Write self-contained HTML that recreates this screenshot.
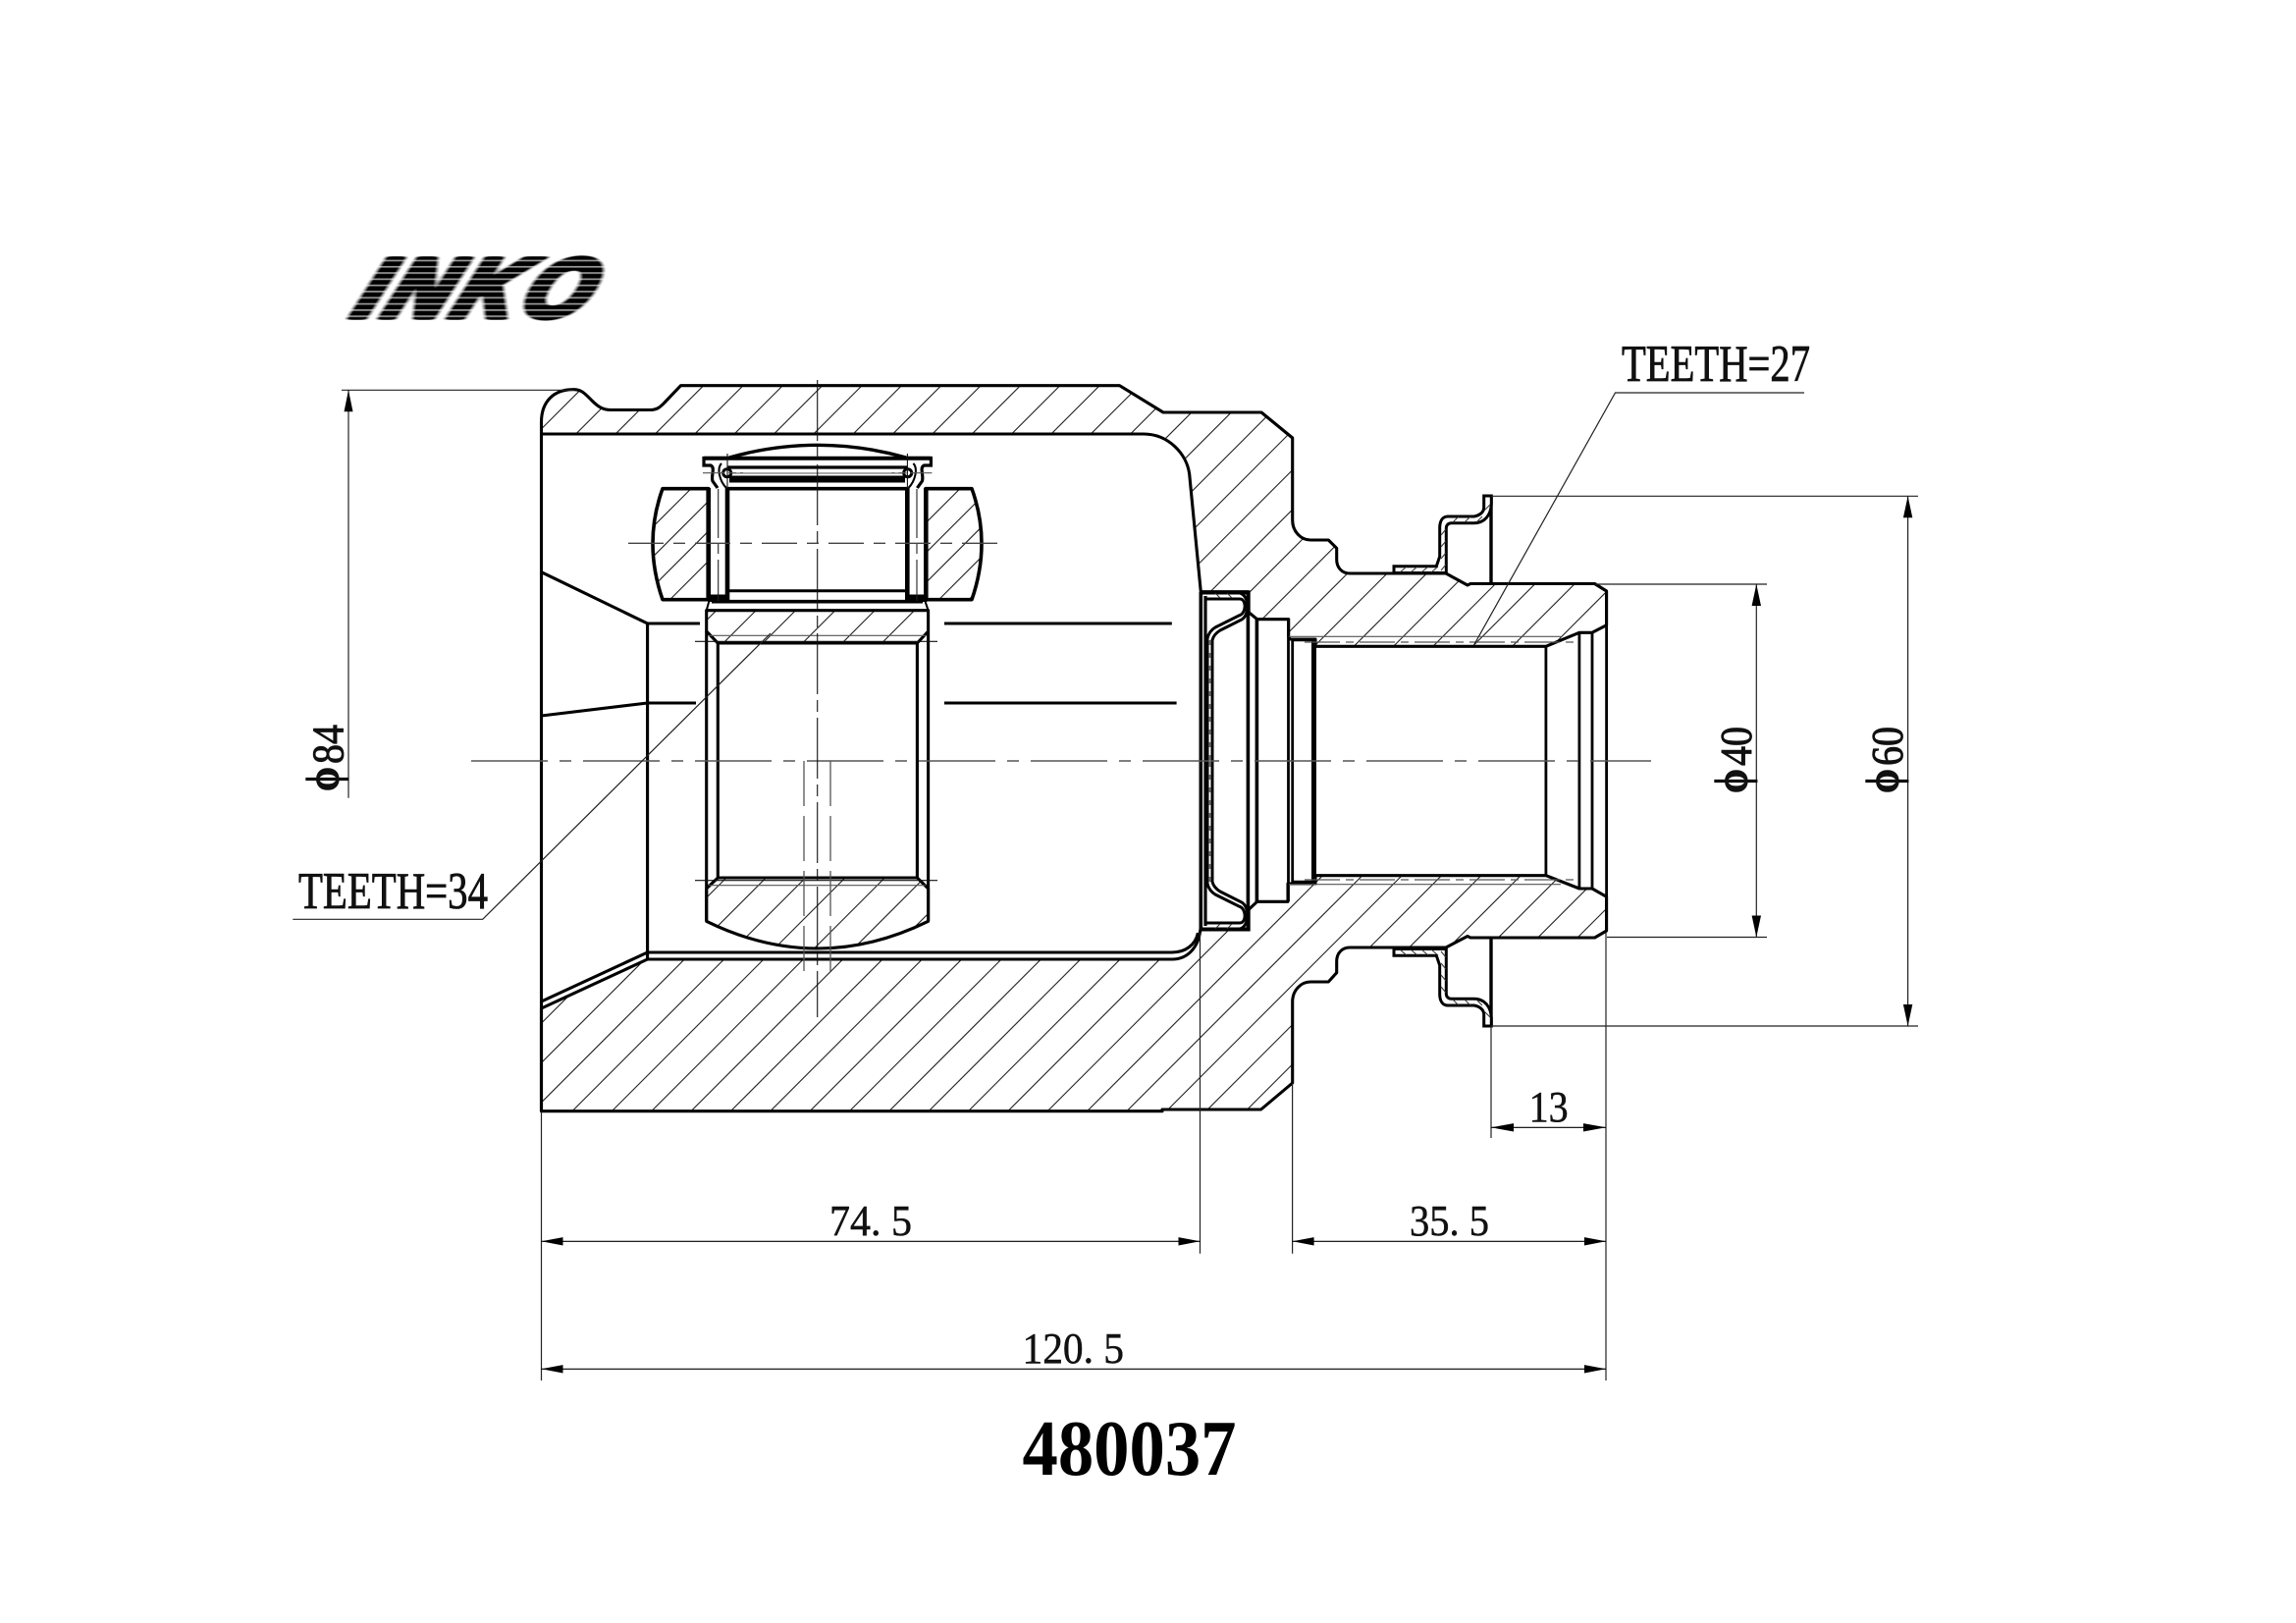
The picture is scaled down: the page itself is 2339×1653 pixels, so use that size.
<!DOCTYPE html>
<html><head><meta charset="utf-8"><title>480037</title>
<style>html,body{margin:0;padding:0;background:#fff}svg{display:block}
text{font-family:"Liberation Serif","DejaVu Serif",serif;fill:#111}</style></head>
<body>
<svg xmlns="http://www.w3.org/2000/svg" width="2339" height="1653" viewBox="0 0 2339 1653">
<defs>
<path id="h" d="M568,380l-760,760M608.35,380l-760,760M648.7,380l-760,760M689.05,380l-760,760M729.4,380l-760,760M769.75,380l-760,760M810.1,380l-760,760M850.45,380l-760,760M890.8,380l-760,760M931.15,380l-760,760M971.5,380l-760,760M1011.85,380l-760,760M1052.2,380l-760,760M1092.55,380l-760,760M1132.9,380l-760,760M1173.25,380l-760,760M1213.6,380l-760,760M1253.95,380l-760,760M1294.3,380l-760,760M1334.65,380l-760,760M1375,380l-760,760M1415.35,380l-760,760M1455.7,380l-760,760M1496.05,380l-760,760M1536.4,380l-760,760M1576.75,380l-760,760M1617.1,380l-760,760M1657.45,380l-760,760M1697.8,380l-760,760M1738.15,380l-760,760M1778.5,380l-760,760M1818.85,380l-760,760M1859.2,380l-760,760M1899.55,380l-760,760M1939.9,380l-760,760M1980.25,380l-760,760M2020.6,380l-760,760M2060.95,380l-760,760M2101.3,380l-760,760M2141.65,380l-760,760M2182,380l-760,760M2222.35,380l-760,760M2262.7,380l-760,760M2303.05,380l-760,760M2343.4,380l-760,760M2383.75,380l-760,760" fill="none" stroke="#222" stroke-width="1.1"/>
<path id="bodyU" d="M551.5,442V430C551.5,408 565,397 583,396.7C592,396 596,401 603,408C609,414 614,417.5 622,417.5H662C670,417.5 673,414 677,410L693.5,392.7H1140.5L1185,420H1285L1316.7,446V530C1316.7,541 1325,550 1335,550H1353.3L1361.7,558.3V570C1361.7,578 1367,584 1375,584H1473L1495,596L1498,594.5H1624.6L1636.6,602V636.7L1622,644.3H1608.9L1574.9,658.3H1340V651H1314L1312.7,648V630.7H1280.7L1271.7,623.3V602.7H1223.3L1211.7,483C1209,462 1190,442 1165,442Z"/>
<path id="bodyL" d="M551.5,1027L659.6,977H1194C1210,977 1221,965 1223,946H1271.7V926.7L1280.7,918.3H1312V900H1340V891.7H1575L1609,905H1622L1636.6,913.3V948L1624.6,955H1498L1495,953.5L1473,965H1375C1367,965 1361.7,971 1361.7,979V990.7L1353.3,1000H1335C1325,1000 1316.7,1009 1316.7,1020V1103L1284.6,1130H1184V1131.7H551.5Z"/>
<path id="spT" d="M719.7,621.7H945.6V643L934.4,655H731.3L719.7,643Z"/>
<path id="spB" d="M731.3,894L719.7,905V938.3Q832.7,993.7 945.6,938.3V905L934.4,894Z"/>
<path id="rL" d="M721.7,497.7H675Q655,553 675,610.7H721.7Z"/>
<path id="rR" d="M943,497.7H990Q1010,553 990,610.7H943Z"/>
<clipPath id="cb"><use href="#bodyU"/><use href="#bodyL"/><use href="#spT"/><use href="#spB"/></clipPath>
<clipPath id="cr"><use href="#rL"/><use href="#rR"/></clipPath>
<g id="ring">
  <path d="M1420,576.7H1463.3L1466.7,566.7V536.7C1467,530 1470,526 1475,526H1501.7C1507,525 1511.7,522 1511.7,516.7V505H1519.3V513C1519,525 1512,532.7 1501.7,532.7H1478.3C1475,533 1473.3,535 1473.3,538V583.5H1420Z" fill="#fff" stroke="#000" stroke-width="3"/>
  <path d="M1426,583l7,-6M1437,583l7,-6M1448,583l7,-6M1458,583l7,-6M1468,545l5,-6M1468,557l5,-6M1468,569l5,-6M1468,581l5,-6M1480,532l6,-6M1492,532l6,-6M1504,532l6,-6M1512,520l6,-6" stroke="#333" stroke-width="1" fill="none"/>
</g>
<g id="seal">
  <path d="M1228,610H1263C1270,610 1270,625 1262,627L1238,639C1233,642 1231,646 1230,650V775" fill="none" stroke="#000" stroke-width="3"/>
  <path d="M1263,604C1272,606 1274,625 1265,631L1243,642C1238,645 1236,648 1235,652V775" fill="none" stroke="#000" stroke-width="3"/>
  <path d="M1223,603.5H1271.7V623" fill="none" stroke="#000" stroke-width="4"/>
  <path d="M1232.5,652V775" stroke="#666" stroke-width="1.6" stroke-dasharray="5 8" fill="none"/>
  <path d="M1238,604l5,5M1250,604l5,5" stroke="#333" fill="none"/>
</g>
<g id="lip">
  <path d="M745,466.5H717V474H724C729,476 724,485 726,490L731,497" fill="none" stroke="#000" stroke-width="3.2"/>
  <path d="M735,472C730,477 733,490 740,497" fill="none" stroke="#000" stroke-width="2"/>
  <circle cx="740.7" cy="481.7" r="4" fill="#fff" stroke="#000" stroke-width="3"/>
  <rect x="721" y="605.5" width="21.5" height="7.5" fill="#000"/>
  <path d="M741,462V497" stroke="#111" stroke-width="1.1"/>
  <path d="M716,481.7H757" stroke="#555" stroke-width="1.2" stroke-dasharray="22 4 8 4"/>
</g>
<filter id="smear" x="-10%" y="-10%" width="120%" height="120%"><feGaussianBlur stdDeviation="3.5 .5"/><feComponentTransfer><feFuncA type="linear" slope="2" intercept="-.15"/></feComponentTransfer></filter>
<pattern id="scan" patternUnits="userSpaceOnUse" width="10" height="6.3"><rect y="0" width="10" height="1.7" fill="#fff" fill-opacity=".6"/></pattern>
</defs>

<!-- logo -->
<g filter="url(#smear)">
<text transform="translate(357,323) skewX(-24)" font-size="86" textLength="236" style="font-family:'Liberation Sans',sans-serif;font-weight:bold;font-style:italic;fill:#000;stroke:#000;stroke-width:5">INKO</text>
</g>
<rect x="340" y="258" width="290" height="72" fill="url(#scan)"/>

<!-- hatching -->
<g clip-path="url(#cb)"><use href="#h"/></g>
<path clip-path="url(#cr)" d="M691,480l-140,140M721.7,480l-140,140M752.2,480l-140,140M782.7,480l-140,140M813.2,480l-140,140M995.7,480l-140,140M1026.2,480l-140,140M1056.7,480l-140,140M1087.2,480l-140,140M1117.7,480l-140,140" stroke="#222" stroke-width="1.1" fill="none"/>

<!-- body -->
<g fill="none" stroke="#000" stroke-width="3.1" stroke-linejoin="round">
  <use href="#bodyU"/>
  <use href="#bodyL"/>
  <path d="M551.5,442V1131.7"/>
  <path d="M551.5,582.7L659.6,635H713M962,635H1193.8"/>
  <path d="M551.5,729L659.6,716H709M962,716H1198.6"/>
  <path d="M659.6,635V977"/>
  <path d="M551.5,1020L659.6,970H1193.8C1208,970 1218,962 1220.4,950"/>
  <!-- spider -->
  <use href="#spT"/>
  <use href="#spB"/>
  <path d="M719.7,643V938M731.3,655V894M934.4,655V894M945.6,643V938"/>
  <!-- rollers -->
  <use href="#rL" stroke-width="3.6"/>
  <use href="#rR" stroke-width="3.6"/>
  <path d="M741,497.7H924" stroke-width="3.6"/>
  <path d="M741,601.7H924" stroke-width="3"/>
  <path d="M725,612.7H940" stroke-width="3.6"/>
  <path d="M722.7,611L719.7,621.7M942,611L945.6,621.7" stroke-width="2"/>
  <path d="M721.7,497V612M741,497V612M924.3,497V612M943.3,497V612" stroke-width="4.6"/>
  <!-- cage top -->
  <path d="M743,466Q832.7,440.6 923,466" stroke-width="3.4"/>
  <path d="M717,466.7H948.3" stroke-width="4"/>
  <path d="M741,476H924" stroke-width="3.2"/>
  <path d="M745,482H920" stroke="#555" stroke-width="1"/>
  <path d="M1280.4,630.7V918.3M1271.4,603V946M1223.3,603V946" stroke-width="3.6"/>
  <path d="M1228,607V943" stroke-width="3.2"/>
  <path d="M1312.5,631V918M1316.7,651V899" stroke-width="2.8"/>
  <path d="M1338.5,651V899" stroke-width="5"/>
  <path d="M1316,651.5H1338M1316,898.5H1338" stroke-width="3.4"/>
  <path d="M1574.9,658.3V891.7M1608.9,644.3V905M1622,644.3V905M1636.6,602V948" stroke-width="2.8"/>
  <path d="M1519,505V594M1519,956V1045" stroke-width="3.4"/>
</g>
<rect x="743" y="484.5" width="179" height="7" fill="#000"/>

<use href="#lip"/><use href="#lip" transform="matrix(-1 0 0 1 1665.4 0)"/>
<use href="#ring"/><use href="#ring" transform="matrix(1 0 0 -1 0 1550)"/>
<use href="#seal"/><use href="#seal" transform="matrix(1 0 0 -1 0 1550)"/>

<!-- thin lines in spider and splines -->
<g fill="none" stroke="#555" stroke-width="1.2">
  <path d="M722,647.3H943M722,901.7H943"/>
  <path d="M1313,648.3H1590M1313,900.7H1590"/>
  <path d="M1329,654H1604M1329,896H1604" stroke-dasharray="36 6 8 6"/>
</g>
<path d="M708,653.3H955M708,896.7H955" stroke="#111" stroke-width="1.1" fill="none"/>

<!-- centre lines -->
<g fill="none">
  <path d="M480,775H1682" stroke="#555" stroke-width="1.5" stroke-dasharray="78 12 12 12"/>
  <path d="M640,553.3H1023" stroke="#444" stroke-width="1.3" stroke-dasharray="36 10 12 10"/>
  <path d="M832.7,387V1036" stroke="#111" stroke-width="1.1" stroke-dasharray="62 6 12 6"/>
  <path d="M819,775V998M846,775V998" stroke="#555" stroke-width="1.3" stroke-dasharray="46 10"/>
  <path d="M731.7,498V612M934,498V612" stroke="#222" stroke-width="1.1" stroke-dasharray="50 6 10 6"/>
</g>

<!-- leaders -->
<g fill="none" stroke="#222" stroke-width="1.2">
  <path d="M298.3,936.3H491.7L785,645"/>
  <path d="M1838,400H1645.5L1501.7,656.7"/>
</g>

<!-- extension and dimension lines -->
<g fill="none" stroke="#222" stroke-width="1.2">
  <path d="M348,397.3H585"/>
  <path d="M355,397.3V812.7"/>
  <path d="M1519,505.3H1954M1519,1045H1954"/>
  <path d="M1943.6,505.3V1045"/>
  <path d="M1625,595H1800M1637,954.5H1800"/>
  <path d="M1789.3,595V954.5"/>
  <path d="M551.5,1132V1406M1222.5,950V1276.7M1316.6,1103V1276.7M1636,950V1406M1519,1045V1159"/>
  <path d="M1519,1148.3H1636M551.5,1264.3H1222.5M1316.6,1264.3H1636M551.5,1394.3H1636" stroke="#000"/>
</g>
<!-- arrowheads -->
<g fill="#000">
  <path d="M355,397.3l-4.5,22h9z"/>
  <path d="M1943.6,505.3l-4.7,22h9.4z"/><path d="M1943.6,1045l-4.7,-22h9.4z"/>
  <path d="M1789.3,595l-4.7,22h9.4z"/><path d="M1789.3,954.5l-4.7,-22h9.4z"/>
  <path d="M1519,1148.3l23,-4.2v8.4z"/><path d="M1636,1148.3l-23,-4.2v8.4z"/>
  <path d="M551.5,1264.3l22,-4.2v8.4z"/><path d="M1222.5,1264.3l-22,-4.2v8.4z"/>
  <path d="M1316.6,1264.3l22,-4.2v8.4z"/><path d="M1636,1264.3l-22,-4.2v8.4z"/>
  <path d="M551.5,1394.3l22,-4.2v8.4z"/><path d="M1636,1394.3l-22,-4.2v8.4z"/>
</g>

<!-- labels -->
<text x="304" y="925" font-size="53" textLength="193" lengthAdjust="spacingAndGlyphs" stroke="#111" stroke-width=".8">TEETH=34</text>
<text x="1652" y="388" font-size="53" textLength="192" lengthAdjust="spacingAndGlyphs" stroke="#111" stroke-width=".8">TEETH=27</text>
<g stroke="#111" stroke-width=".9">
<text transform="translate(345,806) rotate(-90)" font-size="48" font-weight="bold" textLength="25" lengthAdjust="spacingAndGlyphs">ϕ</text>
<text transform="translate(349.3,778) rotate(-90)" font-size="46" textLength="40" lengthAdjust="spacingAndGlyphs">84</text>
<text transform="translate(1780,808) rotate(-90)" font-size="48" font-weight="bold" textLength="25" lengthAdjust="spacingAndGlyphs">ϕ</text>
<text transform="translate(1784,780) rotate(-90)" font-size="46" textLength="40" lengthAdjust="spacingAndGlyphs">40</text>
<text transform="translate(1934,808) rotate(-90)" font-size="48" font-weight="bold" textLength="25" lengthAdjust="spacingAndGlyphs">ϕ</text>
<text transform="translate(1938,780) rotate(-90)" font-size="46" textLength="40" lengthAdjust="spacingAndGlyphs">60</text>
</g>
<g stroke="#111" stroke-width=".5">
<text x="1557.6" y="1142" font-size="44" textLength="40" lengthAdjust="spacingAndGlyphs">13</text>
<text x="845" y="1258" font-size="44" textLength="84" lengthAdjust="spacingAndGlyphs">74. 5</text>
<text x="1436" y="1258" font-size="44" textLength="81" lengthAdjust="spacingAndGlyphs">35. 5</text>
<text x="1041.5" y="1388" font-size="44" textLength="103.5" lengthAdjust="spacingAndGlyphs">120. 5</text>
</g>
<text x="1041.5" y="1502" font-size="80" font-weight="bold" textLength="218" lengthAdjust="spacingAndGlyphs" style="font-weight:bold;fill:#000">480037</text>
</svg>
</body></html>
